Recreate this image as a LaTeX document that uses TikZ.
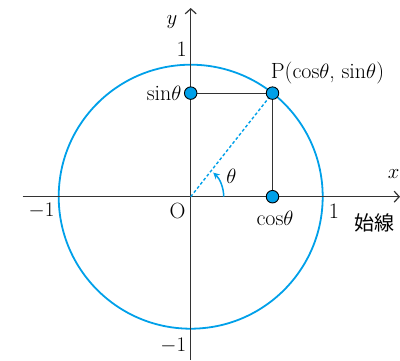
\documentclass[tikz,border=0pt]{standalone}
\usepackage{fontspec}
\newfontfamily\jpfont{Noto Sans CJK JP}
\usetikzlibrary{arrows.meta}
\definecolor{cblue}{HTML}{00A0E9}
\definecolor{axisgray}{HTML}{333333}
\begin{document}
\begin{tikzpicture}[x=1pt,y=1pt,
  axisline/.style={draw=axisgray,line width=1.2pt},
  axisarrow/.style={axisline,-{Straight Barb[length=5pt,width=11pt,line width=1.2pt]}},
  dot/.style={circle,fill=cblue,draw=black,line width=0.9pt,minimum size=12.5pt,inner sep=0pt},
  lbl/.style={inner sep=0pt,font=\fontsize{22}{26}\selectfont},
  ]
\useasboundingbox (-190.7,-163.3) rectangle (209.3,196.7);
\coordinate (O) at (0,0);
\coordinate (P) at (51.7:132);
\coordinate (C) at (P |- O);
\coordinate (S) at (P -| O);
\coordinate (xs) at (-168,0);
\coordinate (xe) at (209.3,0);
\coordinate (ys) at (0,-163.3);
\coordinate (ye) at (0,188.7);
% circle
\draw[cblue,line width=1.8pt] (O) circle[radius=132];
% axes
\draw[axisarrow] (xs) -- (xe);
\draw[axisarrow] (ys) -- (ye);
% projections
\draw[axisline] (S) -- (P) -- (C);
% radius
\draw[cblue,line width=1.4pt,dash pattern=on 3pt off 2.2pt] (O) -- (P);
% angle arc
\draw[cblue,line width=1.5pt,-{Stealth[length=6.5pt,width=6.5pt]}] (33,0) arc[start angle=0,end angle=47,radius=33];
% dots
\node[dot] (Pd) at (P) {};
\node[dot] (Cd) at (C) {};
\node[dot] (Sd) at (S) {};
% labels
\node[lbl,anchor=base west] (Pl) at (80,118.4) {P($\mathrm{cos}\theta$, $\mathrm{sin}\theta$)};
\node[lbl,anchor=base] (cl) at (84.3,-28.5) {$\mathrm{cos}\theta$};
\node[lbl,anchor=base east] (sl) at (-9,96.7) {$\mathrm{sin}\theta$};
\node[lbl,anchor=base] (Ol) at (-13.2,-21.3) {O};
\node[lbl,anchor=base] (one) at (143.3,-21.3) {1};
\node[lbl,anchor=base] (mone) at (-149.2,-20) {$-1$};
\node[lbl,anchor=base] (onet) at (-9,140) {1};
\node[lbl,anchor=base] (moneb) at (-17.4,-155) {$-1$};
\node[lbl,anchor=base] (th) at (40.8,13.7) {$\theta$};
\node[lbl,anchor=base] (yl) at (-18.7,172) {$y$};
\node[lbl,anchor=base east] (xl) at (209,18.7) {$x$};
\node[inner sep=0pt,font=\jpfont\fontsize{20}{24}\selectfont] (sh) at (184.3,-26.3) {始線};
\end{tikzpicture}
\end{document}
